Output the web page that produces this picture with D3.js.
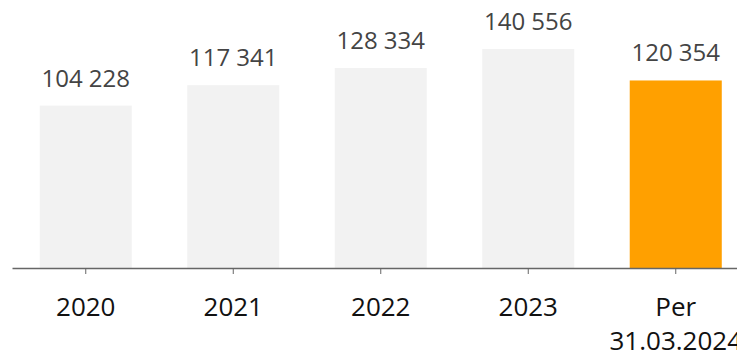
<!DOCTYPE html>
<html>
<head>
<meta charset="utf-8">
<script src="https://cdn.jsdelivr.net/npm/d3@7/dist/d3.min.js"></script>
<style>
  html, body { margin: 0; padding: 0; background: #fff; overflow: hidden; }
  svg { display: block; }
</style>
</head>
<body>
<svg id="chart" width="737" height="354"></svg>
<script>
// Yearly totals, the last one a partial period
const categories = ["2020", "2021", "2022", "2023", "Per\n31.03.2024"];
const values = [104228, 117341, 128334, 140556, 120354];
const highlight = [false, false, false, false, true];

const W = 737, H = 354;
const baseY = 268;
const svg = d3.select("#chart");

const x = d3.scaleBand()
  .domain(categories)
  .range([12, 749.5])
  .paddingInner(0.376)
  .paddingOuter(0.188);

const y = d3.scaleLinear()
  .domain([0, 172000])
  .range([baseY, 0]);

const fmt = v => d3.format(",")(v).replace(/,/g, " ");

// Bars
svg.append("g")
  .selectAll("rect")
  .data(values)
  .join("rect")
  .attr("x", (d, i) => x(categories[i]))
  .attr("y", d => y(d))
  .attr("width", x.bandwidth())
  .attr("height", d => baseY - y(d))
  .attr("fill", (d, i) => highlight[i] ? "#ffa000" : "#f2f2f2");

// Value labels above bars
svg.append("g")
  .selectAll("text")
  .data(values)
  .join("text")
  .attr("x", (d, i) => x(categories[i]) + x.bandwidth() / 2)
  .attr("y", d => y(d) - 19)
  .attr("text-anchor", "middle")
  .attr("font-family", "'Open Sans', 'Noto Sans', sans-serif")
  .attr("font-size", 24)
  .attr("fill", "#444")
  .text(d => fmt(d));

// Category axis
const axis = svg.append("g")
  .attr("transform", `translate(0,${baseY})`)
  .call(d3.axisBottom(x).tickSize(6).tickSizeOuter(0).tickFormat(""));
axis.select(".domain").attr("stroke", "#666").attr("stroke-width", 1.5);
axis.selectAll(".tick line").attr("stroke", "#666").attr("stroke-width", 1);

const labels = svg.append("g")
  .selectAll("text")
  .data(categories)
  .join("text")
  .attr("x", d => x(d) + x.bandwidth() / 2)
  .attr("y", 316)
  .attr("text-anchor", "middle")
  .attr("font-family", "'Open Sans', 'Noto Sans', sans-serif")
  .attr("font-size", 26)
  .attr("fill", "#111");

labels.each(function(d) {
  const t = d3.select(this);
  d.split("\n").forEach((line, k) => {
    t.append("tspan")
      .attr("x", t.attr("x"))
      .attr("dy", k === 0 ? 0 : 34)
      .text(line);
  });
});
</script>
</body>
</html>
